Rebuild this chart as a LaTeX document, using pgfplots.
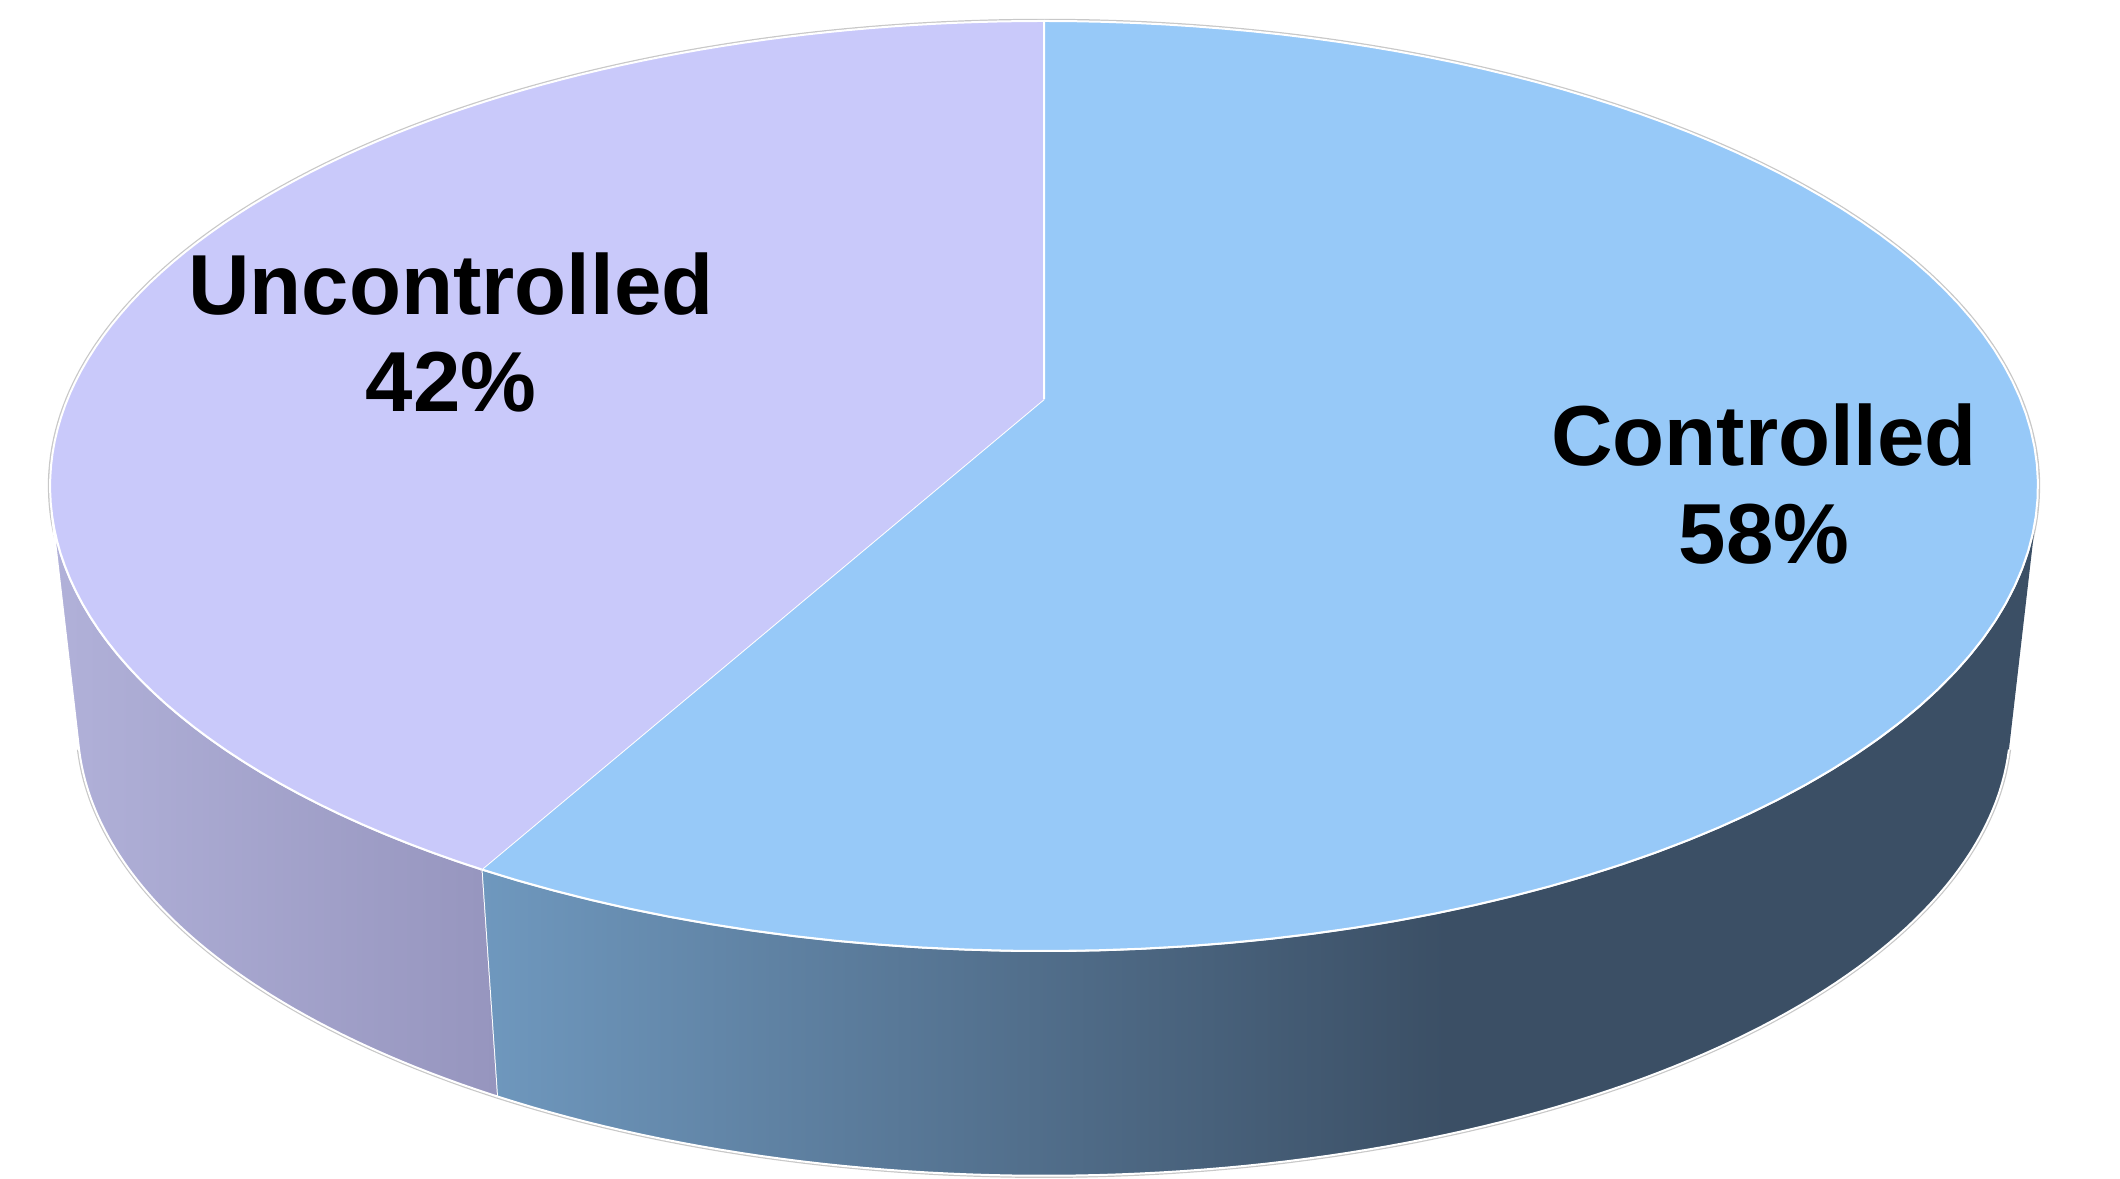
\documentclass[border=0pt]{standalone}
\usepackage{pgfplots}
\pgfplotsset{compat=1.18}
\usepackage{pgfplotstable}
\usepackage{fontspec}
\setmainfont{Liberation Sans}

\definecolor{ctrlTop}{RGB}{151,201,248}
\definecolor{uncTop}{RGB}{201,201,250}
\definecolor{ctrlSideL}{RGB}{111,152,190}
\definecolor{ctrlSideD}{RGB}{59,79,101}
\definecolor{uncSideL}{RGB}{177,177,217}
\definecolor{uncSideR}{RGB}{150,149,190}
\definecolor{rim}{RGB}{200,200,200}

\pgfdeclarehorizontalshading{ctrlside}{100bp}{color(0bp)=(ctrlSideL); color(25bp)=(ctrlSideL); color(56bp)=(ctrlSideD); color(100bp)=(ctrlSideD)}
\pgfdeclarehorizontalshading{uncside}{100bp}{color(0bp)=(uncSideL); color(25bp)=(uncSideL); color(75bp)=(uncSideR); color(100bp)=(uncSideR)}

\pgfplotstableread{
label value
Controlled 58
Uncontrolled 42
}\piedata
\pgfplotstablegetelem{0}{value}\of\piedata \edef\vA{\pgfplotsretval}
\pgfplotstablegetelem{1}{value}\of\piedata \edef\vB{\pgfplotsretval}
\pgfmathsetmacro\split{360*(\vA/(\vA+\vB))}
\def\silR{104}
\def\silL{256}

\begin{document}%
\begin{tikzpicture}[declare function={
  tx(\t)=1044+976.4*sin(\t)/(1+0.1871*cos(\t));
  ty(\t)=1178+(374.1*cos(\t)-399)/(1+0.1871*cos(\t));
  bx(\t)=1044+0.9724*(tx(\t)-1044);
  by(\t)=-7916+0.9724*(ty(\t)+7916);
}]
\begin{axis}[width=530pt,height=294.5pt,scale only axis,
  xmin=0,xmax=2120,ymin=0,ymax=1178,hide axis,clip=true,
  variable=\t]
\coordinate (SW) at (rel axis cs:0,0);
\coordinate (NE) at (rel axis cs:1,1);
% outer light-grey rim
\addplot[rim,line width=1.1pt,domain=0:360,samples=361] ({tx(\t)},{ty(\t)});
\addplot[rim,line width=1.1pt,domain=\silR:\silL,samples=200] ({bx(\t)},{by(\t)});
% side of Controlled slice
\addplot[draw=white,line width=0.5pt,shade,shading=ctrlside,domain=0:3,samples=301]
 ({(\t<1.0005) ? tx(\silR+\t*(\split-\silR)) : ((\t<2.0005) ? tx(\split)+(\t-1)*(bx(\split)-tx(\split)) : bx(\split-(\t-2)*(\split-\silR)))},
  {(\t<1.0005) ? ty(\silR+\t*(\split-\silR)) : ((\t<2.0005) ? ty(\split)+(\t-1)*(by(\split)-ty(\split)) : by(\split-(\t-2)*(\split-\silR)))});
% side of Uncontrolled slice
\addplot[draw=white,line width=0.5pt,shade,shading=uncside,domain=0:3,samples=301]
 ({(\t<1.0005) ? tx(\split+\t*(\silL-\split)) : ((\t<2.0005) ? tx(\silL)+(\t-1)*(bx(\silL)-tx(\silL)) : bx(\silL-(\t-2)*(\silL-\split)))},
  {(\t<1.0005) ? ty(\split+\t*(\silL-\split)) : ((\t<2.0005) ? ty(\silL)+(\t-1)*(by(\silL)-ty(\silL)) : by(\silL-(\t-2)*(\silL-\split)))});
% top faces
\addplot[draw=white,line width=0.5pt,fill=ctrlTop,domain=0:1.02,samples=103]
 ({(\t<1.0005) ? tx(\split*\t) : 1044},{(\t<1.0005) ? ty(\split*\t) : 779});
\addplot[draw=white,line width=0.5pt,fill=uncTop,domain=0:1.02,samples=103]
 ({(\t<1.0005) ? tx(\split+\t*(360-\split)) : 1044},{(\t<1.0005) ? ty(\split+\t*(360-\split)) : 779});
% labels
\node[anchor=base,font=\fontsize{21.3}{24}\selectfont\bfseries] at (axis cs:451,863) {Uncontrolled};
\node[anchor=base,font=\fontsize{21.3}{24}\selectfont\bfseries] at (axis cs:451,766) {42\%};
\node[anchor=base,font=\fontsize{21.3}{24}\selectfont\bfseries] at (axis cs:1764,712) {Controlled};
\node[anchor=base,font=\fontsize{21.3}{24}\selectfont\bfseries] at (axis cs:1764,614) {58\%};
\end{axis}
\pgfresetboundingbox
\useasboundingbox (SW) rectangle (NE);
\end{tikzpicture}%
\end{document}
